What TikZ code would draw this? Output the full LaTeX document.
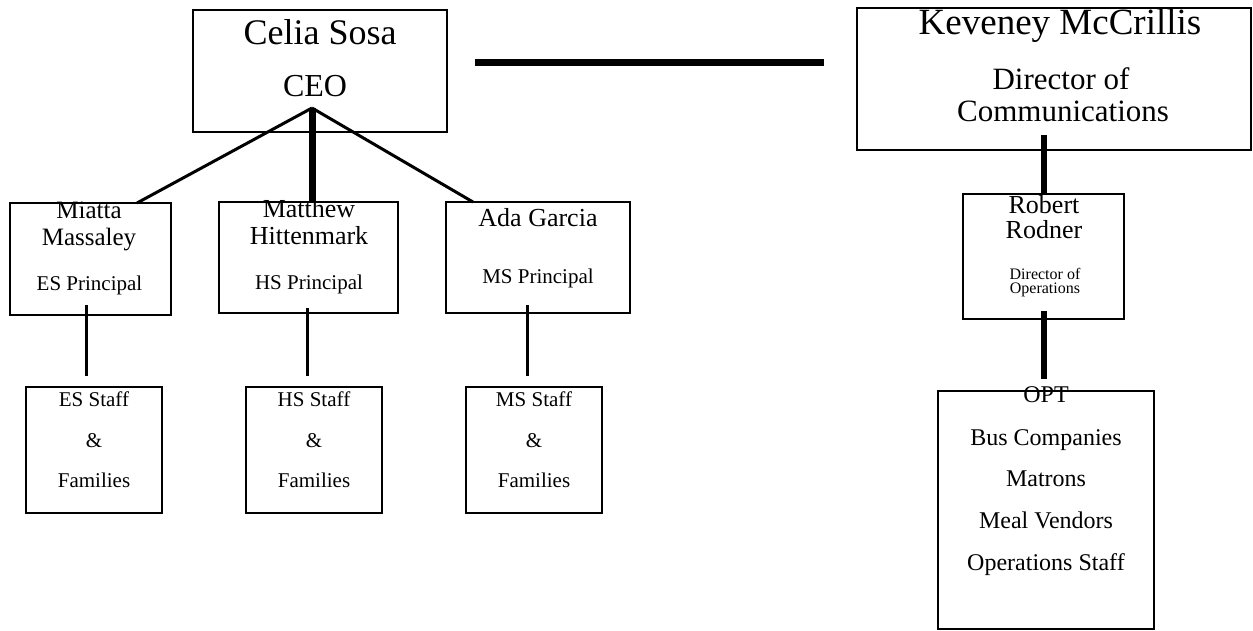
\documentclass[tikz,border=0pt]{standalone}
\usepackage{fontspec}
\setmainfont{Liberation Serif}
\newcommand\setfs[1]{\fontsize{#1}{#1}\selectfont}
\tikzset{
  box/.style={draw=black, line width=2pt, inner sep=0pt, rectangle, fill=none},
  lbl/.style={anchor=base, inner sep=0pt, text=black},
  thinline/.style={draw=black, line width=3pt},
  thickline/.style={draw=black, line width=7pt},
}
\begin{document}
\begin{tikzpicture}[x=1pt,y=-1pt]
\useasboundingbox (0,0) rectangle (1253,631);
% boxes
\node[box, minimum width=254pt, minimum height=122pt] (celia) at (320,71) {};
\node[box, minimum width=394pt, minimum height=142pt] (kev) at (1054,79) {};
\node[box, minimum width=161pt, minimum height=112pt] (miatta) at (90.5,259) {};
\node[box, minimum width=179pt, minimum height=111pt] (matthew) at (308.5,257.5) {};
\node[box, minimum width=184pt, minimum height=111pt] (ada) at (538,257.5) {};
\node[box, minimum width=136pt, minimum height=126pt] (esstaff) at (94,450) {};
\node[box, minimum width=136pt, minimum height=126pt] (hsstaff) at (314,450) {};
\node[box, minimum width=136pt, minimum height=126pt] (msstaff) at (534,450) {};
\node[box, minimum width=161pt, minimum height=125pt] (robert) at (1043.5,256.5) {};
\node[box, minimum width=216pt, minimum height=238pt] (opt) at (1046,510) {};
% connector points
\coordinate (hub) at (312,108);
\coordinate (mtop) at (137,203);
\coordinate (atop) at (473,202);
\coordinate (hl) at (475,63);
\coordinate (hr) at (824,63);
\coordinate (esa) at (86,305);
\coordinate (esb) at (86,376);
\coordinate (hsa) at (307,308);
\coordinate (hsb) at (307,376);
\coordinate (msa) at (527,305);
\coordinate (msb) at (527,376);
\coordinate (keva) at (1044,135);
\coordinate (kevb) at (1044,194);
\coordinate (roba) at (1044,311);
\coordinate (robb) at (1044,379);
% connectors
\draw[thinline] (hub) -- (mtop);
\draw[thinline] (hub) -- (atop);
\draw[thickline] (hub) -- (hub |- matthew.north);
\draw[draw=black, line width=7pt] (hl) -- (hr);
\draw[thinline] (esa) -- (esb);
\draw[thinline] (hsa) -- (hsb);
\draw[thinline] (msa) -- (msb);
\draw[draw=black, line width=6pt] (keva) -- (kevb);
\draw[draw=black, line width=6.5pt] (roba) -- (robb);
% texts
\node[lbl, font=\setfs{36}] (t1) at (320,45) {Celia Sosa};
\node[lbl, font=\setfs{32}] (t2) at (315,97) {CEO};
\node[lbl, font=\setfs{37}] (t3) at (1060,35) {Keveney McCrillis};
\node[lbl, font=\setfs{31}] (t4) at (1061,90) {Director of};
\node[lbl, font=\setfs{31}] (t5) at (1063,122) {Communications};
\node[lbl, font=\setfs{25}] (t6) at (89,219) {Miatta};
\node[lbl, font=\setfs{25}] (t7) at (89,245) {Massaley};
\node[lbl, font=\setfs{21}] (t8) at (89.5,290) {ES Principal};
\node[lbl, font=\setfs{26}] (t9) at (309,218) {Matthew};
\node[lbl, font=\setfs{26}] (t10) at (309,244) {Hittenmark};
\node[lbl, font=\setfs{21}] (t11) at (309,289) {HS Principal};
\node[lbl, font=\setfs{26}] (t12) at (538,227) {Ada Garcia};
\node[lbl, font=\setfs{21}] (t13) at (538,283) {MS Principal};
\node[lbl, font=\setfs{21}] (t14) at (94,406) {ES Staff};
\node[lbl, font=\setfs{21}] (t15) at (94,447) {\&};
\node[lbl, font=\setfs{21}] (t16) at (94,487) {Families};
\node[lbl, font=\setfs{21}] (t17) at (314,406) {HS Staff};
\node[lbl, font=\setfs{21}] (t18) at (314,447) {\&};
\node[lbl, font=\setfs{21}] (t19) at (314,487) {Families};
\node[lbl, font=\setfs{21}] (t20) at (534,406) {MS Staff};
\node[lbl, font=\setfs{21}] (t21) at (534,447) {\&};
\node[lbl, font=\setfs{21}] (t22) at (534,487) {Families};
\node[lbl, font=\setfs{26}] (t23) at (1044,214) {Robert};
\node[lbl, font=\setfs{26}] (t24) at (1044,239) {Rodner};
\node[lbl, font=\setfs{16}] (t25) at (1045,279) {Director of};
\node[lbl, font=\setfs{16}] (t26) at (1045,293) {Operations};
\node[lbl, font=\setfs{24}] (t27) at (1046,402) {OPT};
\node[lbl, font=\setfs{24}] (t28) at (1046,445) {Bus Companies};
\node[lbl, font=\setfs{24}] (t29) at (1046,486) {Matrons};
\node[lbl, font=\setfs{24}] (t30) at (1046,528) {Meal Vendors};
\node[lbl, font=\setfs{24}] (t31) at (1046,570) {Operations Staff};
\end{tikzpicture}
\end{document}
